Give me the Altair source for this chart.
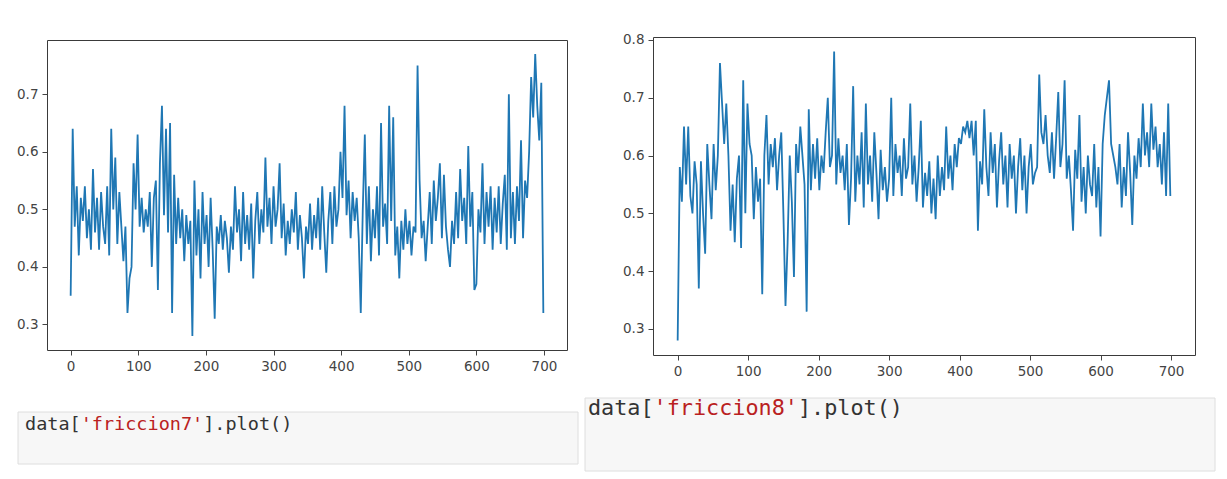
import altair as alt
import pandas as pd

friccion7 = [
    0.35, 0.64, 0.47, 0.54, 0.42, 0.52, 0.48, 0.54, 0.45, 0.50,
    0.43, 0.57, 0.46, 0.52, 0.43, 0.53, 0.47, 0.44, 0.54, 0.42,
    0.64, 0.50, 0.59, 0.44, 0.53, 0.47, 0.41, 0.47, 0.32, 0.38,
    0.40, 0.58, 0.50, 0.63, 0.47, 0.52, 0.46, 0.50, 0.47, 0.53,
    0.40, 0.52, 0.55, 0.36, 0.58, 0.68, 0.49, 0.64, 0.46, 0.65,
    0.32, 0.56, 0.44, 0.52, 0.45, 0.50, 0.41, 0.49, 0.44, 0.48,
    0.28, 0.55, 0.42, 0.50, 0.38, 0.53, 0.44, 0.49, 0.40, 0.52,
    0.43, 0.31, 0.47, 0.44, 0.49, 0.43, 0.48, 0.45, 0.39, 0.47,
    0.43, 0.54, 0.46, 0.50, 0.41, 0.53, 0.44, 0.49, 0.43, 0.51,
    0.38, 0.48, 0.53, 0.44, 0.50, 0.46, 0.59, 0.47, 0.52, 0.44,
    0.54, 0.47, 0.50, 0.58, 0.45, 0.51, 0.42, 0.48, 0.44, 0.50,
    0.46, 0.53, 0.43, 0.49, 0.45, 0.38, 0.47, 0.44, 0.51, 0.43,
    0.49, 0.45, 0.52, 0.43, 0.54, 0.46, 0.39, 0.48, 0.53, 0.44,
    0.54, 0.47, 0.50, 0.60, 0.52, 0.68, 0.49, 0.55, 0.45, 0.53,
    0.48, 0.52, 0.45, 0.32, 0.50, 0.63, 0.44, 0.54, 0.41, 0.50,
    0.45, 0.54, 0.42, 0.65, 0.47, 0.51, 0.44, 0.68, 0.48, 0.66,
    0.42, 0.47, 0.38, 0.48, 0.43, 0.50, 0.44, 0.48, 0.42, 0.47,
    0.46, 0.75, 0.55, 0.45, 0.48, 0.41, 0.47, 0.53, 0.44, 0.55,
    0.48, 0.52, 0.58, 0.45, 0.56, 0.47, 0.43, 0.40, 0.48, 0.44,
    0.53, 0.45, 0.57, 0.48, 0.52, 0.44, 0.61, 0.47, 0.53, 0.36,
    0.37, 0.50, 0.46, 0.58, 0.44, 0.53, 0.47, 0.54, 0.43, 0.52,
    0.46, 0.54, 0.44, 0.51, 0.56, 0.43, 0.70, 0.45, 0.53, 0.44,
    0.54, 0.48, 0.62, 0.45, 0.55, 0.52, 0.60, 0.73, 0.66, 0.77,
    0.68, 0.62, 0.72, 0.32,
]

friccion8 = [
    0.28, 0.58, 0.52, 0.65, 0.55, 0.65, 0.53, 0.50, 0.59, 0.55,
    0.37, 0.59, 0.50, 0.43, 0.62, 0.55, 0.49, 0.62, 0.54, 0.60,
    0.76, 0.69, 0.62, 0.69, 0.60, 0.47, 0.55, 0.45, 0.56, 0.60,
    0.44, 0.73, 0.50, 0.69, 0.62, 0.60, 0.49, 0.58, 0.52, 0.56,
    0.36, 0.60, 0.67, 0.55, 0.62, 0.58, 0.63, 0.54, 0.60, 0.64,
    0.50, 0.34, 0.45, 0.60, 0.52, 0.39, 0.62, 0.57, 0.65, 0.60,
    0.55, 0.33, 0.68, 0.54, 0.62, 0.56, 0.63, 0.54, 0.60, 0.57,
    0.64, 0.70, 0.58, 0.60, 0.78, 0.55, 0.63, 0.57, 0.60, 0.54,
    0.62, 0.48, 0.56, 0.72, 0.52, 0.60, 0.55, 0.64, 0.51, 0.69,
    0.55, 0.60, 0.52, 0.64, 0.57, 0.49, 0.61, 0.54, 0.58, 0.52,
    0.56, 0.70, 0.53, 0.62, 0.57, 0.60, 0.53, 0.63, 0.56, 0.58,
    0.69, 0.55, 0.60, 0.52, 0.58, 0.66, 0.51, 0.57, 0.53, 0.59,
    0.50, 0.56, 0.49, 0.60, 0.53, 0.58, 0.54, 0.65, 0.56, 0.60,
    0.54, 0.62, 0.58, 0.63, 0.62, 0.65, 0.64, 0.66, 0.63, 0.66,
    0.60, 0.66, 0.47, 0.59, 0.55, 0.68, 0.58, 0.53, 0.64, 0.57,
    0.62, 0.51, 0.59, 0.64, 0.55, 0.60, 0.51, 0.62, 0.56, 0.60,
    0.50, 0.58, 0.63, 0.54, 0.60, 0.50, 0.58, 0.62, 0.55, 0.57,
    0.58, 0.74, 0.64, 0.62, 0.67, 0.60, 0.57, 0.64, 0.56, 0.63,
    0.71, 0.58, 0.62, 0.73, 0.56, 0.60, 0.54, 0.47, 0.61, 0.56,
    0.67, 0.52, 0.58, 0.50, 0.60, 0.55, 0.53, 0.62, 0.51, 0.58,
    0.46, 0.62, 0.67, 0.70, 0.73, 0.62, 0.60, 0.58, 0.55, 0.62,
    0.51, 0.58, 0.53, 0.64, 0.57, 0.48, 0.60, 0.56, 0.63, 0.58,
    0.69, 0.60, 0.64, 0.58, 0.69, 0.61, 0.65, 0.58, 0.62, 0.55,
    0.64, 0.53, 0.69, 0.53,
]

index = list(range(0, 700, 3))  # 0, 3, ..., 699

x_ticks = [0, 100, 200, 300, 400, 500, 600, 700]
y_ticks7 = [0.3, 0.4, 0.5, 0.6, 0.7]
y_ticks8 = [0.3, 0.4, 0.5, 0.6, 0.7, 0.8]

LINE = "#1f77b4"
AXIS_FONT = "DejaVu Sans"
MONO = "DejaVu Sans Mono"
RED = "#BA2121"
DARK = "#333333"

one = pd.DataFrame({"k": [0]})


def panel(values, yticks, ydom, w, h, code_col, font_size, box, text_pos):
    df = pd.DataFrame({"i": index, "v": values})
    line = alt.Chart(df).mark_line(color=LINE, strokeWidth=1.8, clip=True).encode(
        x=alt.X("i:Q", scale=alt.Scale(domain=[-35, 734], nice=False, zero=False),
                axis=alt.Axis(values=x_ticks, title=None, format="d")),
        y=alt.Y("v:Q", scale=alt.Scale(domain=ydom, nice=False, zero=False),
                axis=alt.Axis(values=yticks, title=None, format=".1f")),
    )
    bx0, bx1, by0, by1 = box
    rect = alt.Chart(one).mark_rect(fill="#f7f7f7", stroke="#dedede", strokeWidth=1).encode(
        x=alt.value(bx0), x2=alt.value(bx1), y=alt.value(by0), y2=alt.value(by1)
    )
    tx, ty = text_pos
    cw = font_size * 0.602
    parts = [("data[", DARK, 0), (f"'{code_col}'", RED, 5), ("].plot()", DARK, 16)]
    texts = []
    for s, col, off in parts:
        texts.append(
            alt.Chart(one).mark_text(
                text=s, font=MONO, fontSize=font_size, color=col,
                align="left", baseline="alphabetic",
            ).encode(x=alt.value(tx + off * cw), y=alt.value(ty))
        )
    return alt.layer(rect, *texts, line).properties(width=w, height=h)


left = panel(friccion7, y_ticks7, [0.2555, 0.7945], 520, 310, "friccion7", 18.5,
             (-29, 531, 372, 424), (-22, 390))
right = panel(friccion8, y_ticks8, [0.255, 0.805], 542, 318, "friccion8", 21.8,
              (-68, 562, 361, 434), (-65, 378))

# a blank strip that lowers the left panel a little
spacer = alt.Chart(one).mark_rule(opacity=0).encode(
    x=alt.value(0), x2=alt.value(1), y=alt.value(0), y2=alt.value(0)
).properties(width=1, height=1, view=alt.ViewBackground(stroke="transparent"))

left_col = alt.vconcat(spacer, left, spacing=0)

chart = alt.hconcat(left_col, right, spacing=5).properties(
    padding={"left": 8, "top": 24, "right": 0, "bottom": 0},
    background="white",
).configure_view(
    stroke="#3a3a3a", strokeWidth=1
).configure_axis(
    labelFont=AXIS_FONT, labelFontSize=13.5, labelColor="#444444",
    tickColor="#444444", tickSize=5, tickWidth=1, labelPadding=4,
    domain=False, grid=False,
)

chart.save("out.html", embed_options={"renderer": "svg", "actions": False})
